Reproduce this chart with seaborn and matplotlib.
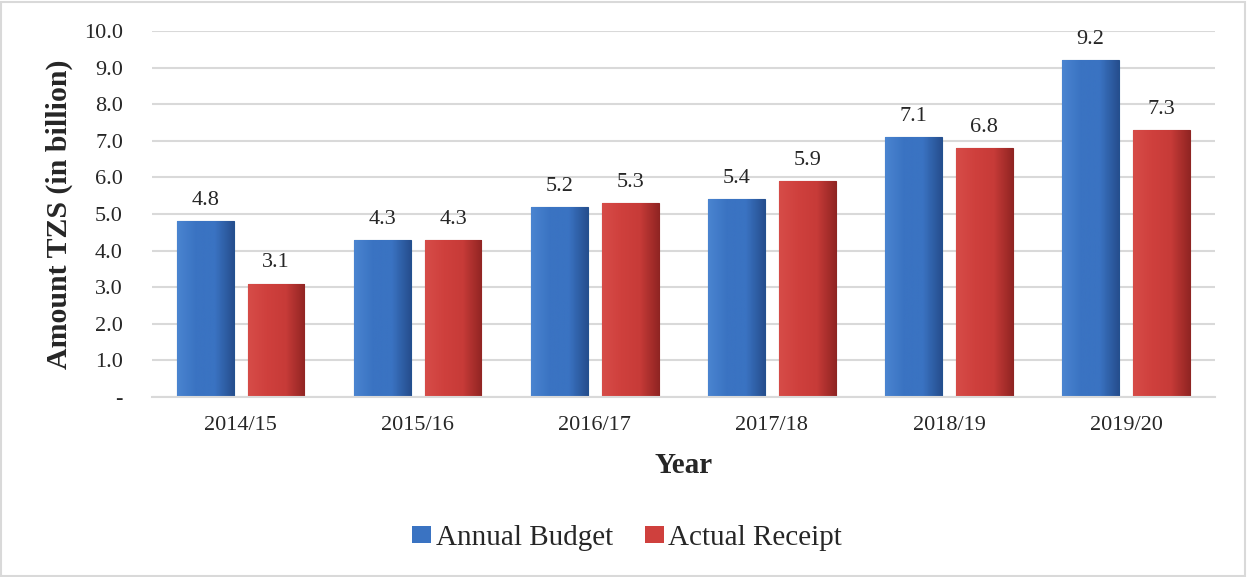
"""Annual budget vs actual receipt, TZS billion"""

import numpy as np
import pandas as pd
import matplotlib.pyplot as plt
import seaborn as sns
from matplotlib.patches import Rectangle
from matplotlib.colors import LinearSegmentedColormap

years = ["2014/15", "2015/16", "2016/17", "2017/18", "2018/19", "2019/20"]
annual_budget = [4.8, 4.3, 5.2, 5.4, 7.1, 9.2]
actual_receipt = [3.1, 4.3, 5.3, 5.9, 6.8, 7.3]
series = ["Annual Budget", "Actual Receipt"]

df = pd.DataFrame({
    "Year": years * 2,
    "Amount": annual_budget + actual_receipt,
    "Series": [series[0]] * len(years) + [series[1]] * len(years),
})

sns.set_style("white")
plt.rcParams["font.family"] = ["Liberation Serif", "DejaVu Serif"]

fig = plt.figure(figsize=(12.47, 5.77), dpi=100)
ax = fig.add_axes([0.122, 0.312, 0.852, 0.634])

sns.barplot(
    data=df,
    x="Year",
    y="Amount",
    hue="Series",
    palette=["#3a73c2", "#cf403d"],
    saturation=1,
    width=0.8,
    gap=0.2,
    edgecolor="none",
    ax=ax,
)

# horizontal shading inside each bar (light left, dark right), clipped to the bar
shades = [
    LinearSegmentedColormap.from_list("b", ["#4a84d0", "#3a73c2", "#3a73c2", "#264f8f"]),
    LinearSegmentedColormap.from_list("r", ["#d64c48", "#cf403d", "#c73b38", "#922523"]),
]
grad = np.linspace(0, 1, 64).reshape(1, -1)
for cont, cmap, edge in zip(ax.containers, shades, ["#22508f", "#8e2422"]):
    for bar in cont:
        x0, y0 = bar.get_x(), bar.get_y()
        im = ax.imshow(grad, cmap=cmap, aspect="auto", zorder=bar.get_zorder() + 0.1,
                       extent=(x0, x0 + bar.get_width(), y0, y0 + bar.get_height()))
        im.set_clip_path(bar)
        bar.set_edgecolor(edge)
        bar.set_linewidth(0.8)
    ax.bar_label(cont, fmt="%.1f", padding=8, fontsize=16)

ax.set_xlim(-0.5, len(years) - 0.5)
ax.set_ylim(0, 10)
ax.set_yticks(range(0, 11))
ax.set_yticklabels(["-"] + [f"{v:.1f}" for v in range(1, 11)], fontsize=16)
ax.tick_params(axis="x", labelsize=16, length=0, pad=14)
ax.tick_params(axis="y", length=0, pad=21)
ax.grid(axis="y", color="#d9d9d9", linewidth=1.5)
ax.set_axisbelow(True)
for s in ["top", "right", "left"]:
    ax.spines[s].set_visible(False)
ax.spines["bottom"].set_color("#d9d9d9")
ax.spines["bottom"].set_linewidth(1.5)

ax.set_xlabel("Year", fontsize=21, fontweight="bold", labelpad=12)
ax.set_ylabel("Amount TZS (in billion)", fontsize=21.5, fontweight="bold", labelpad=8)

leg = ax.legend(
    loc="center",
    bbox_to_anchor=(0.503, 0.068),
    bbox_transform=fig.transFigure,
    ncol=2,
    frameon=False,
    fontsize=21,
    handlelength=0.65,
    handleheight=0.55,
    handletextpad=0.15,
    columnspacing=1.1,
)

fig.patches.append(Rectangle((0.001, 0.002), 0.997, 0.995, transform=fig.transFigure,
                             fill=False, edgecolor="#d9d9d9", linewidth=1.5))

plt.savefig("out.png", dpi=100)
